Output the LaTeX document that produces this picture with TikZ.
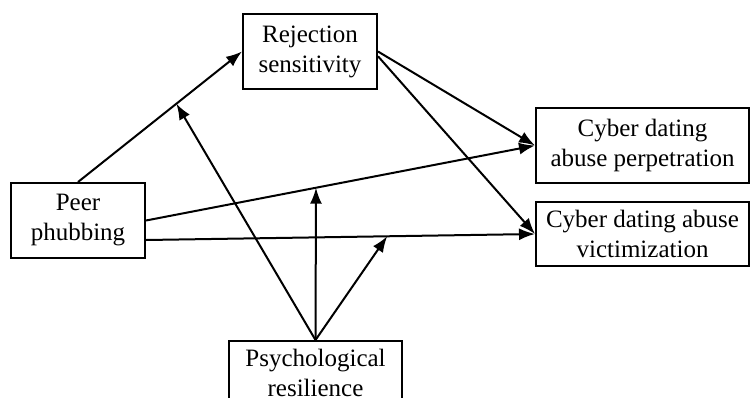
\documentclass[tikz,border=0pt]{standalone}
\usepackage{fontspec}
\setmainfont{Liberation Serif}
\usetikzlibrary{arrows.meta,calc}

\tikzset{
  box/.style={draw, line width=2pt, align=center, inner sep=0pt,
    font=\fontsize{25}{30}\selectfont},
  arr/.style={line width=2pt, -{Latex[length=16pt,width=12pt]}}
}

\begin{document}
\begin{tikzpicture}[x=1pt,y=-1pt]
  \useasboundingbox (0,0) rectangle (751,397);

  %% boxes
  \node[box, minimum width=134pt, minimum height=75pt] (rej) at (310,51.5) {Rejection\\sensitivity};
  \node[box, minimum width=134pt, minimum height=75pt] (peer) at (78,220.5) {Peer\\phubbing};
  \node[box, minimum width=213pt, minimum height=75pt] (perp) at (642.5,145.5) {Cyber dating\\abuse perpetration};
  \node[box, minimum width=213pt, minimum height=64pt] (vict) at (642.5,234) {Cyber dating abuse\\victimization};
  \node[box, minimum width=173pt, minimum height=64pt] (res) at (315.5,373) {Psychological\\resilience};

  %% paths
  \draw[arr] (peer.north) -- (rej.west);
  \draw[arr] (rej.east) -- (perp.west);
  \draw[arr] (rej.-4) -- (vict.west);
  \draw[arr] (peer.east) -- (perp.west);
  \draw[arr] (peer.-16) -- (vict.west);

  %% moderation
  \coordinate (m1) at ($(peer.north)!0.6!(rej.west)$);
  \coordinate (m2) at ($(peer.east)!0.437!(perp.west)$);
  \coordinate (m3) at ($(peer.-16)!0.62!(vict.west)$);
  \draw[arr] (res.north) -- (m1);
  \draw[arr] (res.north) -- (m2);
  \draw[arr] (res.north) -- (m3);

\end{tikzpicture}
\end{document}
